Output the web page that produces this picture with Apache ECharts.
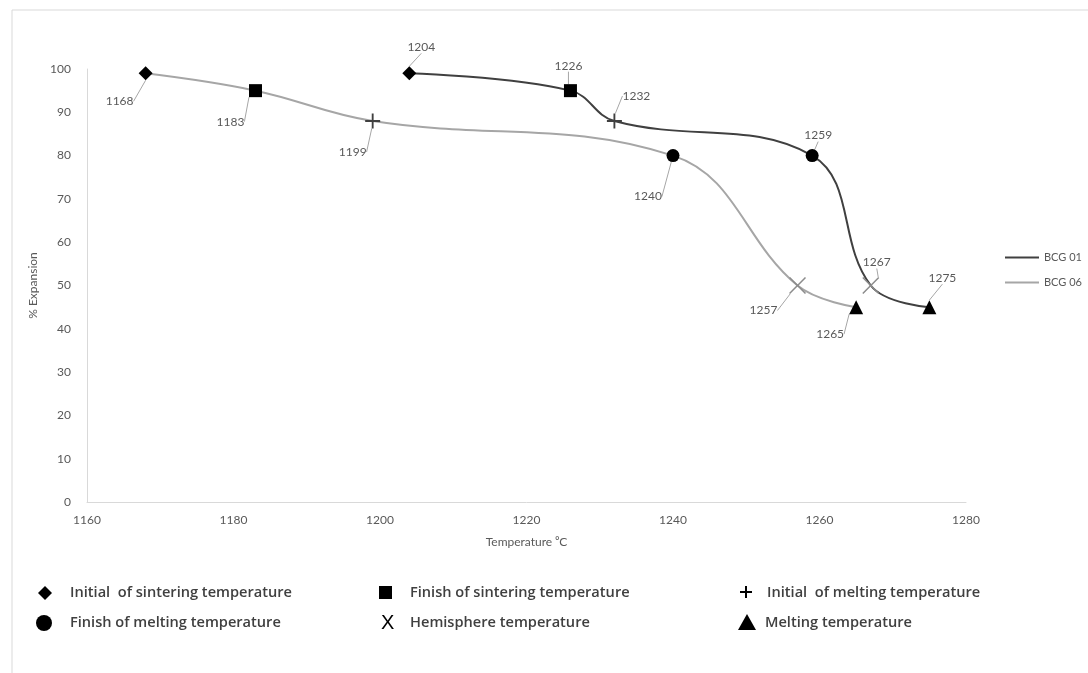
<!DOCTYPE html>
<html>
<head>
<meta charset="utf-8">
<script src="https://cdn.jsdelivr.net/npm/echarts@6/dist/echarts.min.js"></script>
<style>
  html, body { margin: 0; padding: 0; background: #fff; }
  #chart { width: 1088px; height: 673px; }
</style>
</head>
<body>
<div id="chart"></div>
<script>
// temperatures (°C) and % expansion
const bcg01Temp = [1204, 1226, 1232, 1259, 1267, 1275];
const bcg06Temp = [1168, 1183, 1199, 1240, 1257, 1265];
const expansion = [99, 95, 88, 80, 50, 45];
const seriesNames = ['BCG 01', 'BCG 06'];
const stageNames = [
  'Initial  of sintering temperature',
  'Finish of sintering temperature',
  'Initial  of melting temperature',
  'Finish of melting temperature',
  'Hemisphere temperature',
  'Melting temperature'
];

// label offsets from each point
const offs01 = [[12, -26], [-2, -25], [22, -25], [6, -20], [6, -23], [13, -29]];
const offs06 = [[-26, 28], [-25, 31], [-20, 31], [-25, 41], [-34, 25], [-26, 27]];

const plusPath = 'path://M7,0 L9,0 L9,7 L16,7 L16,9 L9,9 L9,16 L7,16 L7,9 L0,9 L0,7 L7,7 Z';
const crossPath = 'path://M0,1 L1,0 L8,7 L15,0 L16,1 L9,8 L16,15 L15,16 L8,9 L1,16 L0,15 L7,8 Z';
const markers = [
  { symbol: 'diamond', symbolSize: 14, color: '#000' },
  { symbol: 'rect', symbolSize: 13, color: '#000' },
  { symbol: plusPath, symbolSize: 15, color: '#404040' },
  { symbol: 'circle', symbolSize: 13, color: '#000' },
  { symbol: crossPath, symbolSize: 17, color: '#8c8c8c' },
  { symbol: 'triangle', symbolSize: 14, color: '#000' }
];

function points(temps) {
  return temps.map((t, i) => ({
    value: [t, expansion[i]],
    symbol: markers[i].symbol,
    symbolSize: markers[i].symbolSize,
    itemStyle: { color: markers[i].color }
  }));
}

function makeSeries(name, temps, color, offs) {
  return {
    name: name,
    type: 'line',
    smooth: 0.4,
    data: points(temps),
    lineStyle: { color: color, width: 2 },
    itemStyle: { color: color },
    label: {
      show: true,
      position: 'inside',
      formatter: p => p.value[0],
      color: '#595959',
      fontFamily: 'Lato',
      fontSize: 12
    },
    labelLine: { show: true, lineStyle: { color: '#a6a6a6', width: 1 } },
    labelLayout: p => ({ dx: offs[p.dataIndex][0], dy: offs[p.dataIndex][1] }),
    z: 3
  };
}

const textStyle = { fill: '#404040', font: '600 14.6px "Open Sans"', verticalAlign: 'middle' };
const g = [
  { type: 'rect', shape: { x: 12, y: 10, width: 1100, height: 700 },
    style: { fill: 'none', stroke: '#d9d9d9', lineWidth: 1 }, silent: true },
  // row 1
  { type: 'polygon', shape: { points: [[45, 586], [52, 593], [45, 600], [38, 593]] }, style: { fill: '#000' } },
  { type: 'text', x: 70, y: 593, style: Object.assign({ text: stageNames[0] }, textStyle) },
  { type: 'rect', shape: { x: 379, y: 586, width: 13, height: 13 }, style: { fill: '#000' } },
  { type: 'text', x: 410, y: 593, style: Object.assign({ text: stageNames[1] }, textStyle) },
  { type: 'line', shape: { x1: 740, y1: 592, x2: 752, y2: 592 }, style: { stroke: '#000', lineWidth: 2 } },
  { type: 'line', shape: { x1: 746, y1: 586, x2: 746, y2: 598 }, style: { stroke: '#000', lineWidth: 2 } },
  { type: 'text', x: 767, y: 593, style: Object.assign({ text: stageNames[2] }, textStyle) },
  // row 2
  { type: 'circle', shape: { cx: 44, cy: 623, r: 8 }, style: { fill: '#000' } },
  { type: 'text', x: 70, y: 623, style: Object.assign({ text: stageNames[3] }, textStyle) },
  { type: 'text', x: 381, y: 623, style: { text: 'X', fill: '#000', font: '20px "Liberation Sans"', verticalAlign: 'middle' } },
  { type: 'text', x: 410, y: 623, style: Object.assign({ text: stageNames[4] }, textStyle) },
  { type: 'polygon', shape: { points: [[747, 614], [756, 630], [738, 630]] }, style: { fill: '#000' } },
  { type: 'text', x: 765, y: 623, style: Object.assign({ text: stageNames[5] }, textStyle) }
];

const chart = echarts.init(document.getElementById('chart'));
chart.setOption({
  animation: false,
  textStyle: { fontFamily: 'Lato' },
  grid: { left: 87, right: 122, top: 69, bottom: 171 },
  legend: {
    orient: 'vertical',
    left: 1000,
    top: 247,
    itemGap: 14,
    itemWidth: 34,
    itemHeight: 2,
    icon: 'rect',
    textStyle: { color: '#595959', fontSize: 11, fontFamily: 'Lato' },
    data: [
      { name: seriesNames[0], itemStyle: { color: '#404040' } },
      { name: seriesNames[1], itemStyle: { color: '#a6a6a6' } }
    ]
  },
  xAxis: {
    type: 'value',
    min: 1160,
    max: 1280,
    interval: 20,
    name: 'Temperature \u2070C',
    nameLocation: 'middle',
    nameGap: 34,
    nameTextStyle: { color: '#595959', fontSize: 12 },
    axisLine: { lineStyle: { color: '#d9d9d9' } },
    axisTick: { show: false },
    axisLabel: { color: '#595959', fontSize: 12, margin: 12, formatter: v => String(v) },
    splitLine: { show: false }
  },
  yAxis: {
    type: 'value',
    min: 0,
    max: 100,
    interval: 10,
    name: '% Expansion',
    nameLocation: 'middle',
    nameGap: 46,
    nameTextStyle: { color: '#595959', fontSize: 12 },
    axisLine: { show: true, lineStyle: { color: '#d9d9d9' } },
    axisTick: { show: false },
    axisLabel: { color: '#595959', fontSize: 12, margin: 16 },
    splitLine: { show: false }
  },
  series: [
    makeSeries(seriesNames[0], bcg01Temp, '#404040', offs01),
    makeSeries(seriesNames[1], bcg06Temp, '#a6a6a6', offs06)
  ],
  graphic: g
});
</script>
</body>
</html>
